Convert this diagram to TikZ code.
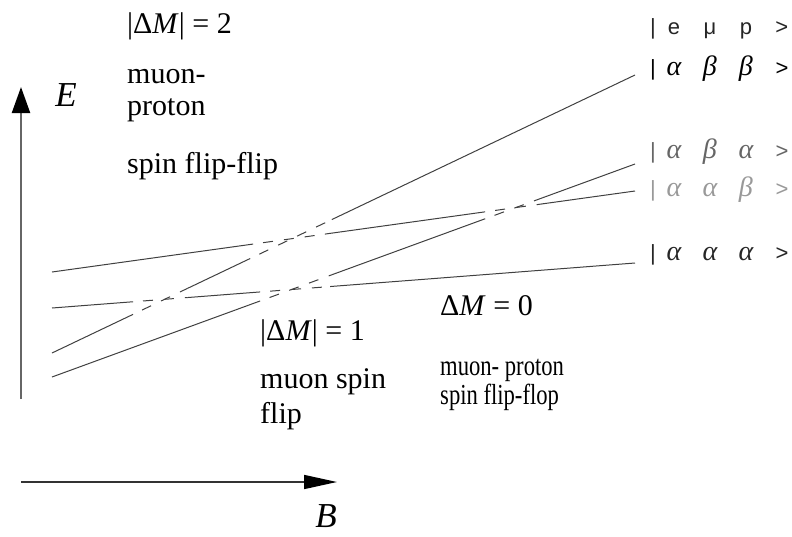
\documentclass[tikz,border=0pt]{standalone}
\usepackage{graphicx}
\usepackage{fontspec}
\setmainfont{Liberation Serif}
\setsansfont{Liberation Sans}
\usetikzlibrary{arrows.meta, calc}

\newcommand{\kc}[1]{\makebox[36pt]{#1}}
\newcommand{\gk}[1]{\kc{\rmfamily\itshape\fontsize{28}{28}\selectfont #1}}

\begin{document}
\begin{tikzpicture}[
    x=1pt, y=-1pt,
    level/.style={draw=black!75, line width=1pt},
    crossing/.style={dash pattern=on 10pt off 11pt, dash phase=11pt},
    lbl/.style={font=\rmfamily\fontsize{30}{32}\selectfont, anchor=base west, inner sep=0pt},
    dmlbl/.style={lbl, font=\rmfamily\fontsize{30}{30}\selectfont},
    ket/.style={font=\sffamily\fontsize{22}{22}\selectfont, anchor=base west, inner sep=0pt},
    axlbl/.style={font=\rmfamily\itshape\fontsize{35}{35}\selectfont, inner sep=0pt},
]
\useasboundingbox (0,0) rectangle (792,536);
% ------------------------------------------------ axes
\coordinate (Ebot) at (21,399);
\coordinate (Etop) at (21,87);
\coordinate (Bleft) at (21,482);
\coordinate (Bright) at (337,482);
\draw[draw=black!60, line width=2.2pt, -{Triangle[length=26pt, width=18pt, color=black]}] (Ebot) -- (Etop);
\draw[draw=black!80, line width=1.6pt, -{Triangle[length=33pt, width=14pt, color=black]}] (Bleft) -- (Bright);
\node[axlbl] (E) at (66,95) {E};
\node[axlbl] (B) at (326,516) {B};
% ------------------------------------------------ states |e mu p>
\node[ket, text=black!85] (kemp) at (650,34) {|\kc{e}\kc{μ}\kc{p}\kc{>}};
\node[ket] (kabb) at (650,75) {|\gk{α}\gk{β}\gk{β}\kc{>}};
\node[ket, text=black!60] (kaba) at (650,158) {|\gk{α}\gk{β}\gk{α}\kc{>}};
\node[ket, text=black!40] (kaab) at (650,196) {|\gk{α}\gk{α}\gk{β}\kc{>}};
\node[ket, text=black!85] (kaaa) at (650,260) {|\gk{α}\gk{α}\gk{α}\kc{>}};
% ------------------------------------------------ energy levels
\coordinate (aabL) at (52,272); \coordinate (aabR) at (635,191);
\coordinate (aaaL) at (52,308); \coordinate (aaaR) at (635,263);
\coordinate (abbL) at (52,353); \coordinate (abbR) at (635,75);
\coordinate (abaL) at (52,377); \coordinate (abaR) at (635,164);
% solid where the level is alone, dashed where two levels cross
\foreach \lv/\fa/\fb/\fc/\fd in {aab/0.345/0.468/0.743/0.842, aaa/0.139/0.232/0.357/0.477,
                                  abb/0.139/0.232/0.340/0.480, aba/0.357/0.480/0.743/0.842} {
  \draw[level] (\lv L) -- ($(\lv L)!\fa!(\lv R)$)
    ($(\lv L)!\fb!(\lv R)$) -- ($(\lv L)!\fc!(\lv R)$)
    ($(\lv L)!\fd!(\lv R)$) -- (\lv R);
  \draw[level, crossing] ($(\lv L)!\fa!(\lv R)$) -- ($(\lv L)!\fb!(\lv R)$)
    ($(\lv L)!\fc!(\lv R)$) -- ($(\lv L)!\fd!(\lv R)$);
}
% ------------------------------------------------ transitions
\node[dmlbl] (dm2) at (127,33) {|Δ\textit{M}| = 2};
\node[lbl] (mp1) at (127,83) {muon-};
\node[lbl] (mp2) at (127,115) {proton};
\node[lbl] (sff) at (127,173) {spin flip-flip};
\node[dmlbl] (dm1) at (260,340) {|Δ\textit{M}| = 1};
\node[lbl] (msp) at (260,388) {muon spin};
\node[lbl] (mfl) at (260,423) {flip};
\node[dmlbl] (dm0) at (440,315) {Δ\textit{M} = 0};
\node[lbl, font=\rmfamily\fontsize{29}{29}\selectfont] (mpr) at (440,375) {\scalebox{0.78}[1]{muon- proton}};
\node[lbl, font=\rmfamily\fontsize{29}{29}\selectfont] (sfl) at (440,404) {\scalebox{0.78}[1]{spin flip-flop}};
\end{tikzpicture}
\end{document}
